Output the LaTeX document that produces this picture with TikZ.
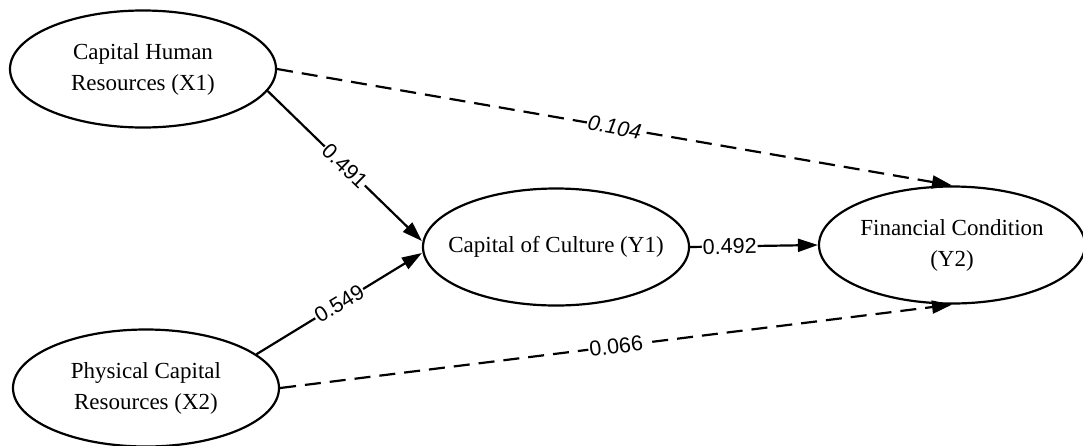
\documentclass[tikz,border=0pt]{standalone}
\usepackage{fontspec}
\setmainfont{Liberation Serif}
\newfontfamily\labfont{Liberation Sans}
\usetikzlibrary{shapes.geometric,arrows.meta}
\tikzset{
  latent/.style={ellipse, draw, line width=2.2pt, minimum width=266pt, minimum height=117pt,
    inner ysep=0pt, inner xsep=-45pt, align=center, font=\fontsize{23}{31}\selectfont},
  arr/.style={line width=2.2pt, -{Triangle[length=20pt,width=13pt]}},
  dasharr/.style={arr, dash pattern=on 16pt off 9pt},
  lbl/.style={fill=white, inner sep=1pt, sloped, font=\labfont\fontsize{21.5}{24}\selectfont}
}
\begin{document}
\begin{tikzpicture}[x=1pt,y=-1pt]
\useasboundingbox (0,0) rectangle (1083,445);
\node[latent] (X1) at (143,69) {Capital Human\\Resources (X1)};
\node[latent] (X2) at (146,388) {Physical Capital\\Resources (X2)};
\node[latent] (Y1) at (556,247) {Capital of Culture (Y1)};
\node[latent] (Y2) at (952,245) {Financial Condition\\(Y2)};
\draw[arr] (X1.-10) -- ([yshift=6pt]Y1.west) node[lbl, midway] {0.491};
\draw[arr] (X2.17) -- ([yshift=-6pt]Y1.west) node[lbl, midway] {0.549};
\draw[arr] (Y1.east) -- (Y2.west) node[lbl, pos=0.31] {0.492};
\draw[dasharr] (X1.east) -- (Y2.north) node[lbl, midway] {\itshape 0.104};
\draw[dasharr] (X2.east) -- (Y2.south) node[lbl, midway] {0.066};
\end{tikzpicture}
\end{document}
